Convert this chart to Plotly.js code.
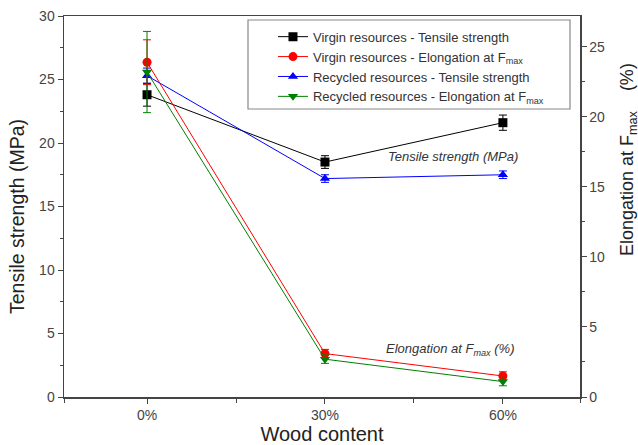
<!DOCTYPE html>
<html><head><meta charset="utf-8">
<script src="https://cdn.plot.ly/plotly-3.0.1.min.js"></script>
<style>body{margin:0;background:#fff}#c{width:638px;height:445px}</style>
</head><body><div id="c"></div>
<script>
const woodContent = [0, 30, 60];
const tickLabels = ["0%", "30%", "60%"];
const virginTensile = [23.8, 18.5, 21.6];
const virginTensileErr = [0.9, 0.5, 0.6];
const virginElong = [23.9, 3.1, 1.5];
const virginElongErr = [1.6, 0.3, 0.3];
const recycledTensile = [25.3, 17.2, 17.5];
const recycledTensileErr = [0.6, 0.3, 0.3];
const recycledElong = [23.2, 2.7, 1.1];
const recycledElongErr = [2.9, 0.3, 0.3];
const names = ["Virgin resources - Tensile strength", "Virgin resources - Elongation at F<sub>max</sub>",
  "Recycled resources - Tensile strength", "Recycled resources - Elongation at F<sub>max</sub>"];

function tr(y, err, name, color, symbol, axis) {
  return {x: woodContent, y: y, name: name, yaxis: axis, type: 'scatter', mode: 'lines+markers',
    line: {color: color, width: 1}, marker: {color: color, symbol: symbol, size: 9},
    error_y: {type: 'data', array: err, visible: true, color: color, thickness: 1, width: 4}};
}
const data = [
  tr(virginTensile, virginTensileErr, names[0], '#000000', 'square', 'y'),
  tr(virginElong, virginElongErr, names[1], '#ff0000', 'circle', 'y2'),
  tr(recycledTensile, recycledTensileErr, names[2], '#0000ff', 'triangle-up', 'y'),
  tr(recycledElong, recycledElongErr, names[3], '#008000', 'triangle-down', 'y2')
];
const axCol = '#444';
const layout = {
  width: 638, height: 445, margin: {l: 64, r: 58, t: 16, b: 48},
  paper_bgcolor: '#fff', plot_bgcolor: '#fff',
  font: {family: 'Liberation Sans, Arial, sans-serif', color: '#444', size: 14},
  showlegend: true,
  legend: {x: 0.405, y: 0.985, xanchor: 'left', yanchor: 'top', borderwidth: 0,
    bgcolor: 'rgba(0,0,0,0)', font: {size: 13, color: '#333'}, tracegroupgap: 0, itemwidth: 30},
  shapes: [{type: 'rect', xref: 'paper', yref: 'paper', x0: (248 - 64) / 516, x1: (570 - 64) / 516,
    y0: 1 - (109 - 16) / 381, y1: 1 - (20 - 16) / 381, line: {color: '#888', width: 1.2}, fillcolor: 'rgba(0,0,0,0)'}],
  xaxis: {range: [-14, 73], tickvals: woodContent, ticktext: tickLabels, ticks: 'outside', ticklen: 5,
    tickcolor: axCol, showline: true, linecolor: axCol, linewidth: 1.5, mirror: true, showgrid: false,
    zeroline: false, minor: {tickvals: [-14, 15, 45, 73], ticks: 'outside', ticklen: 4, tickcolor: axCol},
    title: {text: 'Wood content', font: {size: 20, color: '#222'}, standoff: 0}},
  yaxis: {range: [0, 30], dtick: 5, ticks: 'outside', ticklen: 5, tickcolor: axCol, showline: true,
    linecolor: axCol, linewidth: 1.5, showgrid: false, zeroline: false,
    minor: {dtick: 2.5, ticks: 'outside', ticklen: 3, tickcolor: axCol}},
  yaxis2: {overlaying: 'y', side: 'right', range: [0, 27.2], dtick: 5, ticks: 'outside', ticklen: 5,
    tickcolor: axCol, showline: true, linecolor: axCol, linewidth: 1.5, showgrid: false, zeroline: false,
    minor: {dtick: 2.5, ticks: 'outside', ticklen: 3, tickcolor: axCol}},
  annotations: [
    {x: 51.6, y: 18.9, xref: 'x', yref: 'y', text: '<i>Tensile strength (MPa)</i>', showarrow: false,
      font: {size: 13, color: '#333'}},
    {x: 51, y: 3.4, xref: 'x', yref: 'y2', text: '<i>Elongation at F<sub>max</sub> (%)</i>', showarrow: false,
      font: {size: 13, color: '#333'}},
    {x: (17 - 64) / 516, y: 1 - (217 - 16) / 381, xref: 'paper', yref: 'paper', textangle: -90,
      text: 'Tensile strength (MPa)', showarrow: false, xanchor: 'center', yanchor: 'middle',
      font: {size: 19.5, color: '#222'}},
    {x: (628 - 64) / 516, y: 1 - (160 - 16) / 381, xref: 'paper', yref: 'paper', textangle: -90,
      text: 'Elongation at F<sub>max</sub>&#160;&#160;&#160;&#160;(%)', showarrow: false,
      xanchor: 'center', yanchor: 'middle', font: {size: 18, color: '#222'}}
  ]
};
Plotly.newPlot('c', data, layout, {displayModeBar: false, staticPlot: true});
</script></body></html>
